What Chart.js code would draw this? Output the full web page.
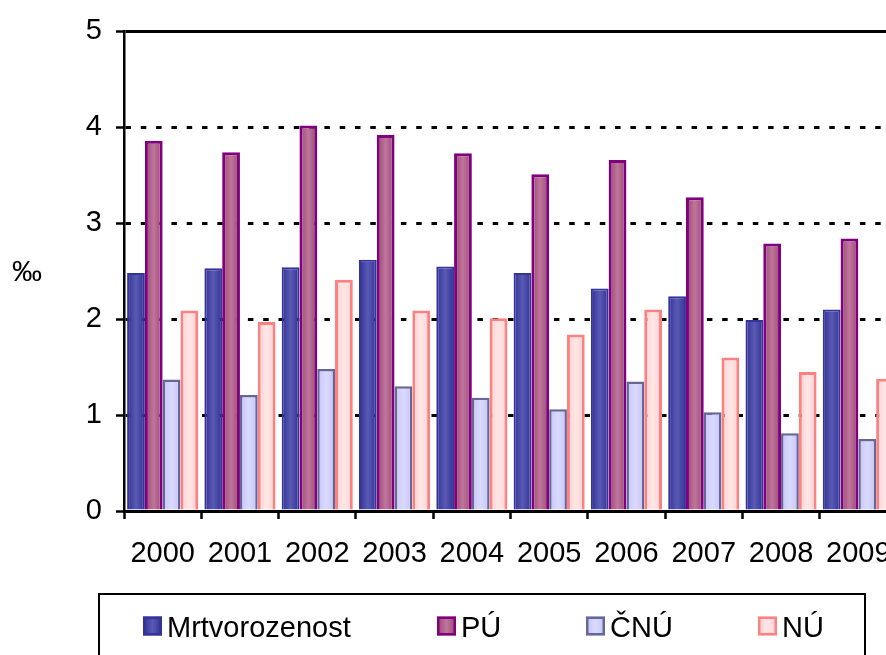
<!DOCTYPE html>
<html>
<head>
<meta charset="utf-8">
<script src="https://cdn.jsdelivr.net/npm/chart.js@4/dist/chart.umd.min.js"></script>
<style>
html, body { margin: 0; padding: 0; overflow: hidden; background: #fff; }
#wrap { position: relative; width: 920px; height: 660px; }
canvas { display: block; }
</style>
</head>
<body>
<div id="wrap"><canvas id="c" width="920" height="660"></canvas></div>
<script>
// ---- data ----
const categories = ['2000','2001','2002','2003','2004','2005','2006','2007','2008','2009'];
const seriesNames = ['Mrtvorozenost', 'PÚ', 'ČNÚ', 'NÚ'];
const mrtvorozenost = [2.48, 2.53, 2.54, 2.62, 2.55, 2.48, 2.32, 2.24, 1.99, 2.10];
const pu            = [3.86, 3.74, 4.02, 3.92, 3.73, 3.51, 3.66, 3.27, 2.79, 2.84];
const cnu           = [1.37, 1.21, 1.48, 1.30, 1.18, 1.06, 1.35, 1.03, 0.81, 0.75];
const nu            = [2.09, 1.97, 2.41, 2.09, 2.01, 1.84, 2.10, 1.60, 1.45, 1.38];
const yTicks = [0, 1, 2, 3, 4, 5];
const yUnit = '‰';

// ---- styles ----
const FONT = '"Liberation Sans", Arial, sans-serif';
const styles = [
  { edge: '#303094', center: '#5a5ab4', border: '#333399', bw: 2 },
  { edge: '#98466f', center: '#bf769c', border: '#800080', bw: 3 },
  { edge: '#c4c4f4', center: '#dadaff', border: '#666699', bw: 2.5 },
  { edge: '#ffd0d0', center: '#ffe6e6', border: '#ff8080', bw: 3 }
];
const CAT_PCT = 0.92;

function gradFill(i) {
  return (ctx) => {
    const chart = ctx.chart;
    const xs = chart.scales && chart.scales.x;
    if (!xs || ctx.type !== 'data' || !chart.chartArea) return styles[i].center;
    const cw = xs.width / categories.length;
    const group = cw * CAT_PCT;
    const bw = group / seriesNames.length;
    const left = xs.getPixelForValue(ctx.dataIndex) - group / 2 + ctx.datasetIndex * bw;
    const g = chart.ctx.createLinearGradient(left, 0, left + bw, 0);
    g.addColorStop(0, styles[i].edge);
    g.addColorStop(0.5, styles[i].center);
    g.addColorStop(1, styles[i].edge);
    return g;
  };
}

const allSeries = [mrtvorozenost, pu, cnu, nu];
const datasets = allSeries.map((d, i) => ({
  label: seriesNames[i],
  data: d,
  backgroundColor: gradFill(i),
  borderColor: styles[i].border,
  borderWidth: styles[i].bw,
  borderSkipped: 'bottom',
  categoryPercentage: CAT_PCT,
  barPercentage: 1.0
}));

const legendPlugin = {
  id: 'customLegend',
  afterDraw(chart) {
    const c = chart.ctx;
    c.save();
    // unit label
    c.fillStyle = '#000';
    c.font = '30px ' + FONT;
    c.textAlign = 'center';
    c.textBaseline = 'middle';
    c.fillText(yUnit, 27, 273);
    // legend box
    c.strokeStyle = '#000';
    c.lineWidth = 2;
    c.strokeRect(99, 594, 766, 100);
    const mx = [143, 437, 586, 758];
    c.textAlign = 'left';
    c.textBaseline = 'alphabetic';
    c.font = '29px ' + FONT;
    seriesNames.forEach((n, i) => {
      const x = mx[i], y = 616.5, s = 19;
      const g = c.createLinearGradient(x, 0, x + s, 0);
      g.addColorStop(0, styles[i].edge);
      g.addColorStop(0.5, styles[i].center);
      g.addColorStop(1, styles[i].edge);
      c.fillStyle = g;
      c.fillRect(x, y, s, s);
      c.strokeStyle = styles[i].border;
      c.lineWidth = 2.5;
      c.strokeRect(x + 1.25, y + 1.25, s - 2.5, s - 2.5);
      c.fillStyle = '#000';
      c.fillText(n, x + 24, 637);
    });
    c.restore();
  }
};

new Chart(document.getElementById('c'), {
  type: 'bar',
  data: { labels: categories, datasets },
  options: {
    responsive: false,
    animation: false,
    layout: { padding: { left: 0, top: 29, right: 23, bottom: 89 } },
    plugins: { legend: { display: false }, tooltip: { enabled: false } },
    scales: {
      x: {
        afterFit: (s) => { s.height = 60; },
        grid: { display: true, drawOnChartArea: false, drawTicks: true, tickLength: 8, tickWidth: 2.5, tickColor: '#000', offset: true },
        border: { display: true, color: '#000', width: 2.5 },
        ticks: { color: '#000', font: { family: FONT, size: 29 }, padding: 18, maxRotation: 0, autoSkip: false }
      },
      y: {
        min: 0, max: 5,
        afterFit: (s) => { s.width = 124; },
        afterBuildTicks: (s) => { s.ticks = yTicks.map(v => ({ value: v })); },
        grid: {
          color: '#000', lineWidth: 3, drawTicks: true, tickLength: 8, tickWidth: 2.5, tickColor: '#000'
        },
        border: {
          display: true, color: '#000', width: 2.5,
          dash: (c) => (c.type === 'tick' && c.tick && c.tick.value !== 5 && c.tick.value !== 0) ? [5.5, 9.8] : []
        },
        ticks: { color: '#000', font: { family: FONT, size: 29 }, padding: 14, stepSize: 1 }
      }
    }
  },
  plugins: [legendPlugin]
});
</script>
</body>
</html>
